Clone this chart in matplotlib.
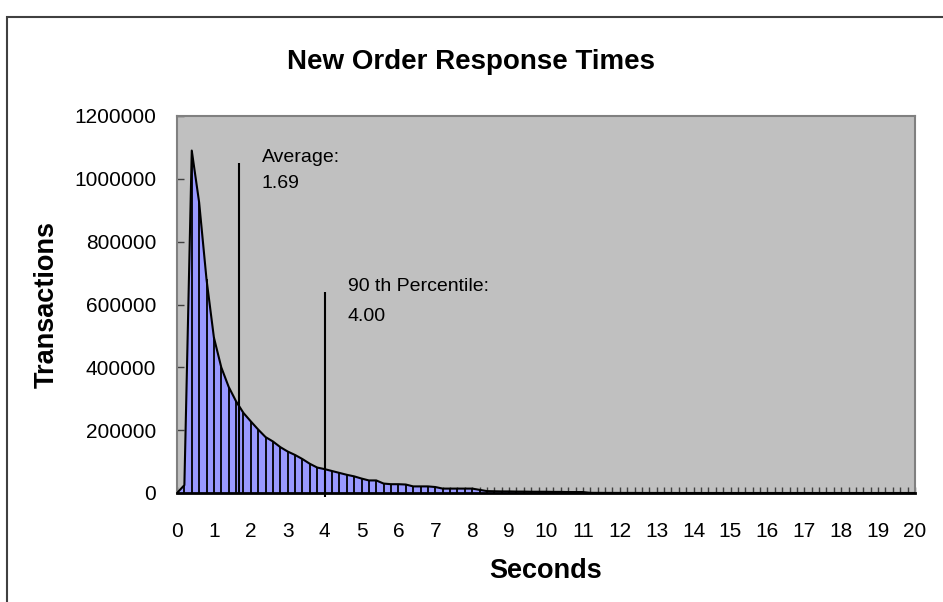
import numpy as np
import matplotlib
matplotlib.use('Agg')
import matplotlib.pyplot as plt
from matplotlib.patches import Rectangle

plt.rcParams['font.family'] = ['Liberation Sans', 'DejaVu Sans']

# Response time buckets (seconds) and transaction counts
seconds = [round(0.2 * i, 1) for i in range(101)]
transactions = [
    0, 25000, 1090000, 925000, 680000, 495000, 400000, 338000, 292000, 255000,
    228000, 202000, 178000, 164000, 146000, 132000, 121000, 108000, 93000, 81000,
    76000, 70000, 64000, 58000, 53000, 46000, 40000, 40000, 30000, 28000,
    28000, 27000, 21000, 21000, 21000, 19000, 14000, 14000, 14000, 14000,
    14000, 10000, 6000, 5500, 5000, 5000, 4500, 4500, 4000, 4000,
    4000, 3500, 3500, 3000, 3000, 3000, 500, 400, 300, 300,
    200, 200, 200, 100, 100, 100, 100, 100, 0, 0,
    0, 0, 0, 0, 0, 0, 0, 0, 0, 0,
    0, 0, 0, 0, 0, 0, 0, 0, 0, 0,
    0, 0, 0, 0, 0, 0, 0, 0, 0, 0,
    0,
]

avg_time = 1.69
avg_height = 1050000
pct90_time = 4.00
pct90_height = 640000

x_labels = [str(i) for i in range(21)]
y_ticks = [0, 200000, 400000, 600000, 800000, 1000000, 1200000]

fig = plt.figure(figsize=(9.43, 6.02), dpi=100)
fig.patch.set_facecolor('white')
ax = fig.add_axes([177 / 943, 1 - 493 / 602, 738 / 943, 377 / 602])
ax.set_facecolor('#C0C0C0')

# area with drop lines
ax.fill_between(seconds, transactions, 0, color='#9999FF', linewidth=0, zorder=2)
ax.vlines(seconds, 0, transactions, color='black', linewidth=1.3, zorder=3)
ax.plot(seconds, transactions, color='black', linewidth=1.5, zorder=4)

# average and 90th percentile markers
ax.vlines([avg_time], 0, avg_height, color='black', linewidth=1.5, zorder=5)
ax.vlines([pct90_time], -12000, pct90_height, color='black', linewidth=1.5,
          zorder=5, clip_on=False)
ax.text(2.3, 1068000, 'Average:', fontsize=14, va='center', ha='left')
ax.text(2.3, 985000, '1.69', fontsize=14, va='center', ha='left')
ax.text(4.63, 656000, '90 th Percentile:', fontsize=14, va='center', ha='left')
ax.text(4.63, 562000, '4.00', fontsize=14, va='center', ha='left')

ax.set_xlim(0, 20)
ax.set_ylim(0, 1200000)
ax.set_xticks(range(21))
ax.set_xticklabels(x_labels)
ax.set_xticks(seconds, minor=True)
ax.set_yticks(y_ticks)
ax.set_yticklabels([str(v) for v in y_ticks])
ax.tick_params(axis='x', which='both', direction='in', length=4.5, width=1,
               color='#404040', labelsize=15, pad=21)
ax.tick_params(axis='y', direction='in', length=5, width=1, color='#404040',
               labelsize=15, pad=15)

for side in ['left', 'top', 'right']:
    ax.spines[side].set_color('#808080')
    ax.spines[side].set_linewidth(1.5)
ax.spines['bottom'].set_color('black')
ax.spines['bottom'].set_linewidth(2)
ax.spines['bottom'].set_zorder(6)

fig.text(471 / 943, 1 - 62 / 602, 'New Order Response Times', fontsize=20,
         fontweight='bold', ha='center', va='center')
fig.text(47 / 943, 1 - 305 / 602, 'Transactions', fontsize=19.5,
         fontweight='bold', rotation=90, ha='center', va='center')
fig.text(546 / 943, 1 - 571 / 602, 'Seconds', fontsize=19.5, fontweight='bold',
         ha='center', va='center')

# chart frame (cut off at right and bottom)
fig.patches.append(Rectangle((7 / 943, -0.1), 1.2, (1 - 17 / 602) + 0.1,
                             transform=fig.transFigure, fill=False,
                             edgecolor='#404040', linewidth=1.5))

fig.savefig('out.png', dpi=100)
